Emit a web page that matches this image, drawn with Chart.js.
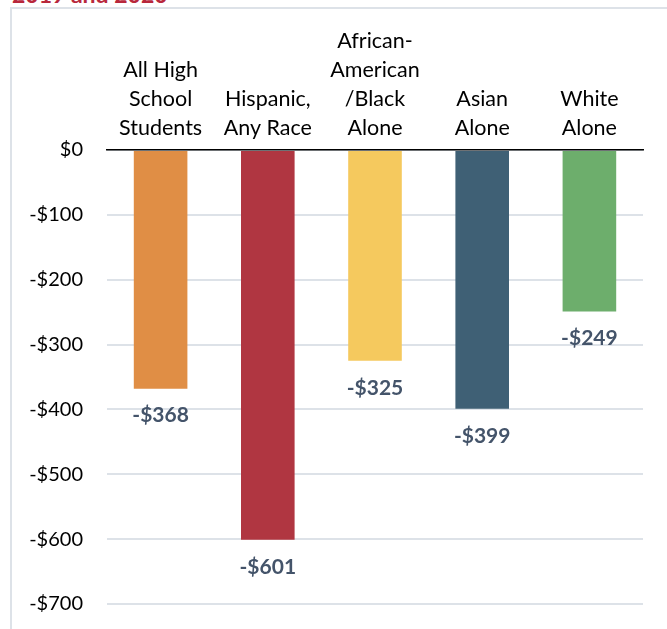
<!DOCTYPE html>
<html>
<head>
<meta charset="utf-8">
<script src="https://cdn.jsdelivr.net/npm/chart.js@4.4.0/dist/chart.umd.min.js"></script>
<style>
  body { margin: 0; background: #fff; overflow: hidden; }
  #titulo {
    position: absolute; left: 12px; top: -20px;
    font: bold 23px Lato, sans-serif; color: #b8283c;
  }
  #moldura {
    position: absolute; left: 10px; top: 7px; width: 700px; height: 700px;
    border-left: 2px solid #dde2e8; border-top: 2px solid #dde2e8;
  }
  #grafico { position: absolute; left: 0; top: 0; }
</style>
</head>
<body>
<div id="titulo">2019 and 2020</div>
<div id="moldura"></div>
<canvas id="grafico" width="667" height="640"></canvas>
<script>
// categorias (rótulos em várias linhas) e valores
var categorias = [
    ['All High', 'School', 'Students'],
    ['Hispanic,', 'Any Race'],
    ['African-', 'American', '/Black', 'Alone'],
    ['Asian', 'Alone'],
    ['White', 'Alone']
]
var valores = [-368, -601, -325, -399, -249]
var cores = ['#e08e45', '#b03641', '#f5c95e', '#3f6075', '#6dae6c']
var ticksY = [0, -100, -200, -300, -400, -500, -600, -700]

function formatar(v) {
    return (v < 0 ? '-$' : '$') + Math.abs(v)
}

// escreve o valor abaixo de cada barra
const rotulosValor = {
    id: 'rotulosValor',
    afterDatasetsDraw(chart) {
        const ctx = chart.ctx
        const meta = chart.getDatasetMeta(0)
        ctx.save()
        ctx.font = 'bold 21px Lato, sans-serif'
        ctx.fillStyle = '#44546a'
        ctx.textAlign = 'center'
        ctx.textBaseline = 'middle'
        meta.data.forEach((barra, i) => {
            ctx.fillText(formatar(valores[i]), barra.x, barra.y + 27)
        })
        ctx.restore()
    }
}

const ctxBarra = document.getElementById('grafico').getContext('2d')
const grafico = new Chart(ctxBarra, {
    type: 'bar',
    data: {
        labels: categorias,
        datasets: [{
            data: valores,
            backgroundColor: cores,
            barPercentage: 0.5,
            categoryPercentage: 1
        }]
    },
    options: {
        responsive: false,
        animation: false,
        layout: { padding: { left: 0, top: 0, right: 24, bottom: 0 } },
        plugins: { legend: { display: false }, tooltip: { enabled: false } },
        scales: {
            x: {
                position: 'top',
                grid: { display: false, drawTicks: false },
                border: { color: '#000', width: 1.5 },
                ticks: {
                    color: '#000',
                    font: { family: 'Lato', size: 21.5, lineHeight: 1.35 },
                    padding: 7,
                    maxRotation: 0
                },
                afterFit(escala) { escala.height = 150 }
            },
            y: {
                min: -700,
                max: 0,
                afterBuildTicks(escala) { escala.ticks = ticksY.map(v => ({ value: v })) },
                grid: { color: '#dde2e8', lineWidth: 2, drawTicks: false },
                border: { display: false },
                ticks: {
                    color: '#000',
                    font: { family: 'Lato', size: 20 },
                    padding: 24,
                    callback: v => formatar(v)
                },
                afterFit(escala) { escala.width = 107 }
            }
        }
    },
    plugins: [rotulosValor]
})
</script>
</body>
</html>
